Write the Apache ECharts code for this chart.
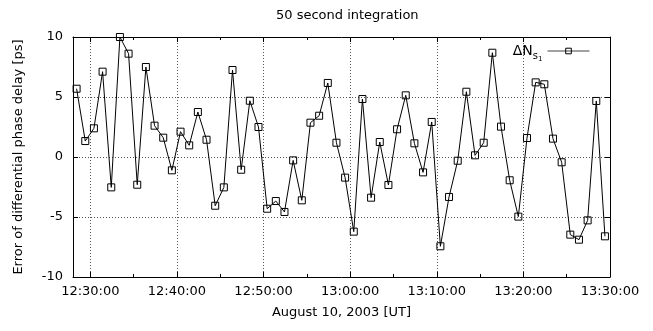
<!DOCTYPE html>
<html>
<head>
<meta charset="utf-8">
<script src="https://cdn.jsdelivr.net/npm/echarts@6/dist/echarts.min.js"></script>
<style>
	html, body { margin: 0; padding: 0; background: #fff; }
	#chart { width: 653px; height: 331px; }
</style>
</head>
<body>
<div id="chart"></div>
<script>
	// sample times: one point per minute, first at 12:28:25 UT
	var sampleStart = '12:28:25';
	var sampleStep = 60; // s
	// error of differential phase delay [ps]
	var delayError = [
		5.69, 1.33, 2.39, 7.11, -2.53, 10.0, 8.61, -2.31, 7.5, 2.61, 1.61, -1.11, 2.11, 0.97, 3.75, 1.44,
		-4.06, -2.53, 7.25, -1.06, 4.69, 2.5, -4.31, -3.67, -4.58, -0.28, -3.61, 2.86, 3.44, 6.17, 1.19, -1.72,
		-6.22, 4.83, -3.39, 1.25, -2.33, 2.31, 5.14, 1.14, -1.28, 2.92, -7.44, -3.33, -0.31, 5.44, 0.14, 1.19, 8.69,
		2.53, -1.94, -4.97, 1.58, 6.22, 6.06, 1.53, -0.44, -6.47, -6.89, -5.28, 4.67, -6.61
	];
	var xRange = ['12:28:00', '13:30:00'];
	var xTickLabels = ['12:30:00', '12:40:00', '12:50:00', '13:00:00', '13:10:00', '13:20:00', '13:30:00'];
	var xMinorTickLabels = ['12:35:00', '12:45:00', '12:55:00', '13:05:00', '13:15:00', '13:25:00'];
	var yTicks = [-10, -5, 0, 5, 10];

	function toSec(s) {
		var p = s.split(':');
		return (+p[0]) * 3600 + (+p[1]) * 60 + (+p[2]);
	}
	function pad(n) {
		return (n < 10 ? '0' : '') + n;
	}
	function toLabel(v) {
		return pad(Math.floor(v / 3600)) + ':' + pad(Math.floor(v % 3600 / 60)) + ':' + pad(Math.round(v % 60));
	}

	var t0 = toSec(sampleStart);
	var points = delayError.map(function (v, i) {
		return [t0 + i * sampleStep, v];
	});
	var xMin = toSec(xRange[0]);
	var xMax = toSec(xRange[1]);
	var major = xTickLabels.map(toSec);
	var minor = xMinorTickLabels.map(toSec);

	var font = 'DejaVu Sans';
	var black = '#000';
	var gridLine = { show: true, lineStyle: { color: '#555', width: 1, type: [1, 2] } };

	function xAxisPart(pos, ticks, len, withLine, withLabel) {
		return {
			type: 'value',
			position: pos,
			min: xMin,
			max: xMax,
			axisLine: { show: withLine, onZero: false, lineStyle: { color: black, width: 1 } },
			axisTick: { show: true, inside: true, length: len, customValues: ticks, lineStyle: { color: black } },
			axisLabel: withLabel ? {
				customValues: major,
				formatter: toLabel,
				margin: 8,
				color: black,
				fontFamily: font,
				fontSize: 13
			} : { show: false },
			splitLine: withLabel ? gridLine : { show: false },
			name: withLabel ? 'August 10, 2003 [UT]' : '',
			nameLocation: 'middle',
			nameGap: 29,
			nameTextStyle: { color: black, fontFamily: font, fontSize: 13 }
		};
	}

	var myChart = echarts.init(document.getElementById('chart'), null, { renderer: 'canvas' });
	myChart.setOption({
		animation: false,
		backgroundColor: '#fff',
		title: {
			text: '50 second integration',
			left: 271,
			top: 4,
			textStyle: { color: black, fontFamily: font, fontSize: 13, fontWeight: 'normal' }
		},
		legend: {
			right: 58,
			top: 39,
			align: 'right',
			itemWidth: 42,
			itemHeight: 7,
			data: ['dN'],
			lineStyle: { width: 1, color: '#444' },
			itemStyle: { color: 'rgba(0,0,0,0)', borderColor: black, borderWidth: 1 },
			formatter: function () {
				return '{a|ΔN}{s|s}{t|1}';
			},
			textStyle: {
				color: black,
				fontFamily: font,
				rich: {
					a: { fontFamily: font, fontSize: 14, color: black },
					s: { fontFamily: font, fontSize: 10, color: black, padding: [10, 0, 0, 0] },
					t: { fontFamily: font, fontSize: 7, color: black, padding: [16, 0, 0, 0] }
				}
			}
		},
		grid: { left: 73, right: 43, top: 37, bottom: 54 },
		xAxis: [
			xAxisPart('bottom', major, 5, true, true),
			xAxisPart('bottom', minor, 3, false, false),
			xAxisPart('top', major, 5, true, false),
			xAxisPart('top', minor, 3, false, false)
		],
		yAxis: [{
			type: 'value',
			position: 'left',
			min: yTicks[0],
			max: yTicks[yTicks.length - 1],
			interval: 5,
			axisLine: { show: true, onZero: false, lineStyle: { color: black, width: 1 } },
			axisTick: { show: true, inside: true, length: 5, lineStyle: { color: black } },
			axisLabel: { margin: 10, color: black, fontFamily: font, fontSize: 13 },
			splitLine: gridLine,
			name: 'Error of differential phase delay [ps]',
			nameLocation: 'middle',
			nameGap: 48,
			nameTextStyle: { color: black, fontFamily: font, fontSize: 13 }
		}, {
			type: 'value',
			position: 'right',
			min: yTicks[0],
			max: yTicks[yTicks.length - 1],
			interval: 5,
			axisLine: { show: true, onZero: false, lineStyle: { color: black, width: 1 } },
			axisTick: { show: true, inside: true, length: 5, lineStyle: { color: black } },
			axisLabel: { show: false },
			splitLine: { show: false }
		}],
		series: [{
			name: 'dN',
			type: 'line',
			xAxisIndex: 0,
			yAxisIndex: 0,
			data: points,
			symbol: 'rect',
			symbolSize: 7,
			showAllSymbol: true,
			clip: false,
			lineStyle: { color: black, width: 1 },
			itemStyle: { color: 'rgba(0,0,0,0)', borderColor: black, borderWidth: 1 }
		}]
	});
</script>
</body>
</html>
